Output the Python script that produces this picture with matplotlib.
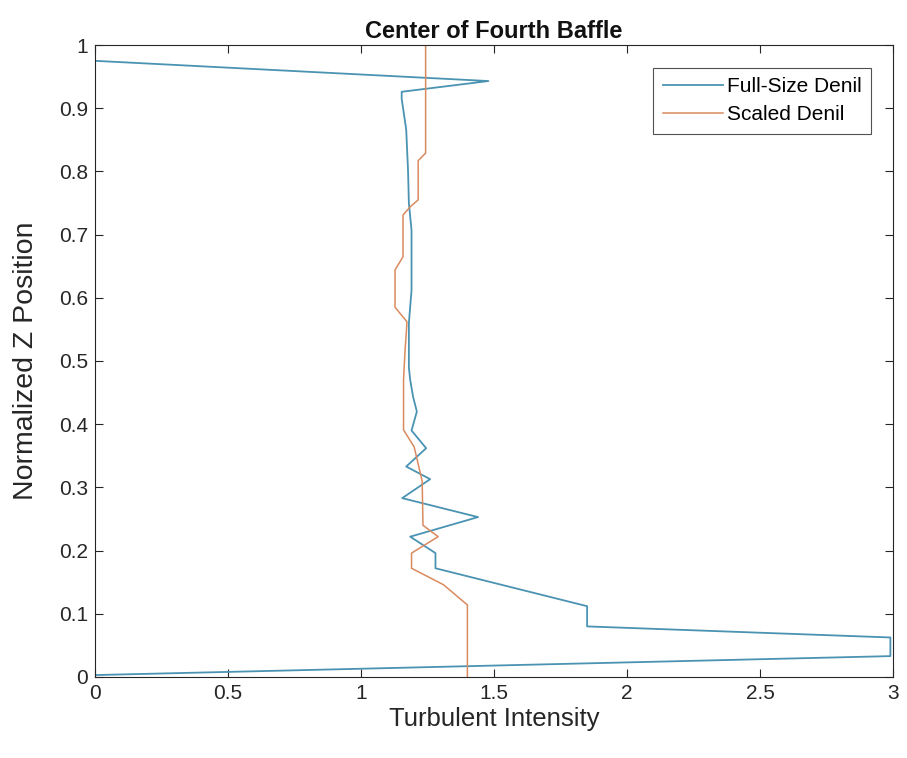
import numpy as np
import matplotlib
matplotlib.use('Agg')
import matplotlib.pyplot as plt

# turbulent intensity profiles along the baffle centre line (bottom -> top)
full_ti = [0.0, 2.99, 2.99, 1.85, 1.85, 1.28, 1.28, 1.185, 1.44, 1.155, 1.26,
           1.17, 1.245, 1.19, 1.21, 1.196, 1.185, 1.18, 1.18, 1.19, 1.19,
           1.18, 1.177, 1.17, 1.153, 1.153, 1.479, 0.0]
full_z = [0.003, 0.033, 0.0625, 0.080, 0.112, 0.172, 0.196, 0.222, 0.253,
          0.283, 0.313, 0.333, 0.362, 0.390, 0.420, 0.443, 0.470, 0.490,
          0.560, 0.612, 0.707, 0.750, 0.800, 0.866, 0.915, 0.926, 0.943, 0.975]

scaled_ti = [1.40, 1.40, 1.31, 1.19, 1.19, 1.29, 1.233, 1.23, 1.20, 1.16,
             1.16, 1.165, 1.173, 1.128, 1.128, 1.158, 1.158, 1.185, 1.215,
             1.215, 1.243, 1.243]
scaled_z = [0.0, 0.114, 0.146, 0.172, 0.196, 0.222, 0.240, 0.310, 0.364,
            0.391, 0.470, 0.512, 0.562, 0.585, 0.644, 0.665, 0.731, 0.744,
            0.755, 0.817, 0.829, 1.0]

plt.rcParams['font.family'] = ['Liberation Sans', 'DejaVu Sans']

fig = plt.figure(figsize=(9.07, 7.58), dpi=100)
ax = fig.add_axes([0.1047, 0.1069, 0.8799, 0.8337])

ax.plot(full_ti, full_z, color='#4a93b3', lw=1.3, label='Full-Size Denil')
ax.plot(scaled_ti, scaled_z, color='#d98a5e', lw=1.1, label='Scaled Denil')

ax.set_xlim(0, 3)
ax.set_ylim(0, 1)
ax.set_xticks(np.arange(0, 3.01, 0.5))
ax.set_xticklabels(['0', '0.5', '1', '1.5', '2', '2.5', '3'])
ax.set_yticks(np.arange(0, 1.01, 0.1))
ax.set_yticklabels(['0', '0.1', '0.2', '0.3', '0.4', '0.5', '0.6', '0.7',
                    '0.8', '0.9', '1'])
ax.tick_params(direction='in', top=True, right=True, length=6, width=0.8,
               colors='#262626', labelsize=15, pad=5)
for s in ax.spines.values():
    s.set_color('#262626')
    s.set_linewidth(0.8)

ax.set_title('Center of Fourth Baffle', fontsize=17, fontweight='bold',
             color='#111111', pad=5)
ax.set_xlabel('Turbulent Intensity', fontsize=18.5, color='#262626',
              labelpad=3)
ax.set_ylabel('Normalized Z Position', fontsize=20.5, color='#262626',
              labelpad=14)

leg = ax.legend(loc='upper right', bbox_to_anchor=(0.978, 0.971), fontsize=15,
                fancybox=False, edgecolor='#262626', handlelength=2.9,
                handletextpad=0.2, borderpad=0.45, labelspacing=0.45,
                borderaxespad=0.2)
leg.get_frame().set_linewidth(0.8)

fig.savefig('out.png', dpi=100)
